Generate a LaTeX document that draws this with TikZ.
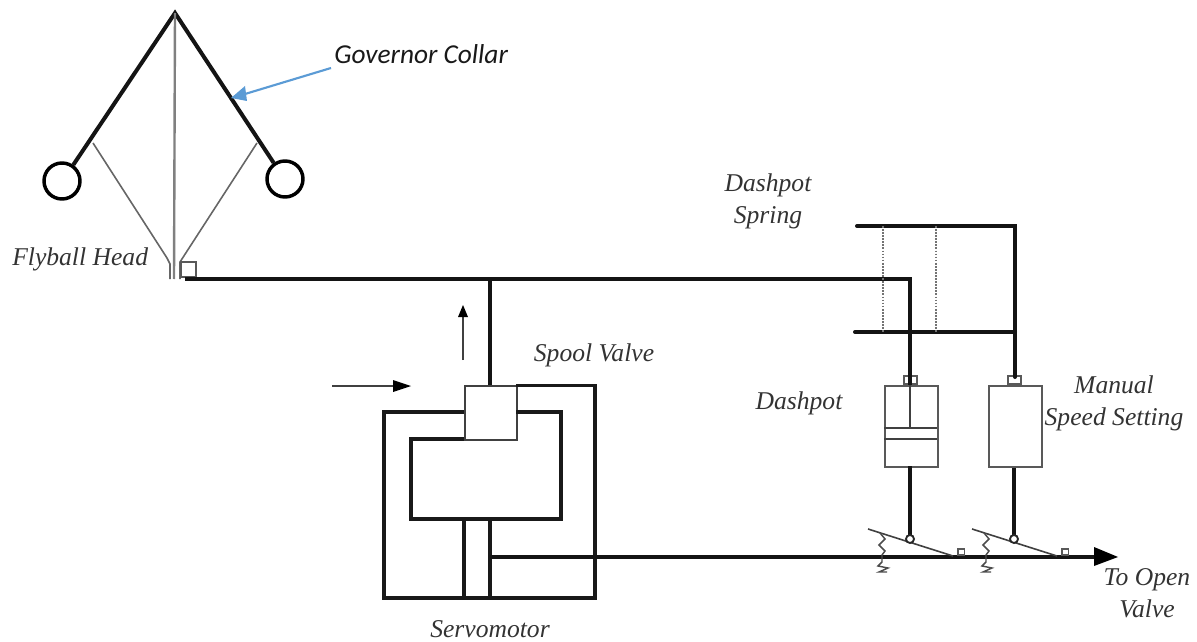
\documentclass[tikz,border=0pt]{standalone}
\usepackage{fontspec}
\setmainfont{Liberation Serif}
\newfontfamily\calib{Carlito}
\usetikzlibrary{arrows.meta}
\tikzset{
  thick line/.style={line width=3pt,black!92,line cap=round,line join=miter},
  mid line/.style={line width=2.2pt,black!90},
  thin box/.style={line width=1.4pt,black!65},
  thin line/.style={line width=1.2pt,black!60},
  lbl/.style={font=\fontsize{19.2pt}{24pt}\selectfont\itshape,text=black!80,inner sep=0pt,align=center},
}
\begin{document}
\begin{tikzpicture}[x=0.75pt,y=-0.75pt]
\useasboundingbox (0,0) rectangle (1197,642);
% flyball head
\coordinate (apex) at (175,13);
\node[circle,draw,line width=2.6pt,minimum size=36pt*0.75,inner sep=0pt] (ballL) at (62,181) {};
\node[circle,draw,line width=2.6pt,minimum size=36pt*0.75,inner sep=0pt] (ballR) at (285,179) {};
\draw[thick line,line cap=butt,line join=miter] (ballL.55) -- (apex) -- (ballR.125);
\coordinate (spindle) at (174,279);
\draw[line width=1.8pt,black!50] (apex) -- (spindle);
\coordinate (jl) at (93,143);
\coordinate (jr) at (257,143);
\draw[thin line] (jl) -- (167,258) -- (170,264) -- (170,279);
\draw[thin line] (jr) -- (180,262) -- (180,279);
\node[draw,thin box,minimum size=15pt*0.75,inner sep=0pt,anchor=south west] (collar) at (180,278) {};
% rail
\coordinate (railL) at (185,279);
\coordinate (railT) at (490,279);
\coordinate (railR) at (910,279);
% dashpot
\node[draw,thin box,minimum width=53pt*0.75,minimum height=81pt*0.75,inner sep=0pt,anchor=north west] (dash) at (884,385) {};
\node[draw,thin box,minimum width=13pt*0.75,minimum height=8pt*0.75,inner sep=0pt,anchor=south] (dashcap) at (910.5,385) {};
\node[draw,thin box,minimum width=53pt*0.75,minimum height=81pt*0.75,inner sep=0pt,anchor=north west] (man) at (988,385) {};
\node[draw,thin box,minimum width=13pt*0.75,minimum height=8pt*0.75,inner sep=0pt,anchor=south] (mancap) at (1014.5,385) {};
\draw[thin line,black!75] (910,385) -- (910,428);
\draw[thin line,black!75] (884,428) -- (937,428) (884,439) -- (937,439);
\draw[thick line,line cap=butt,line join=miter] (railL) -- (railR) -- (910,385);
\draw[thick line,line cap=butt] (railT) -- (490,386);
% spring block
\coordinate (st) at (857,226);
\coordinate (stc) at (1015,226);
\coordinate (sb) at (855,332);
\coordinate (sbc) at (1015,332);
\draw[thick line,line join=miter] (st) -- (stc) -- (1015,377);
\draw[thick line] (sb) -- (sbc);
\draw[line width=1.3pt,black!55,densely dotted] (883,226) -- (883,332) (936,226) -- (936,332);
% rods
\coordinate (pl) at (910,539);
\coordinate (pr) at (1014,539);
\draw[thick line,line cap=butt] (910,466) -- (pl);
\draw[thick line,line cap=butt] (pr |- man.south) -- (pr);
% servomotor
\node[draw,line width=1.4pt,black!75,minimum width=52pt*0.75,minimum height=54pt*0.75,inner sep=0pt,anchor=north west] (spool) at (464,385) {};
\draw[mid line,line width=2.6pt,line join=miter] (516,385.5) -- (595,385.5) -- (595,598) -- (384,598) -- (384,412) -- (464,412);
\draw[mid line,line width=2.6pt,line join=miter] (516,412) -- (561,412) -- (561,519) -- (411,519) -- (411,439) -- (464,439);
\draw[mid line,line width=2.6pt] (464,519) -- (464,598) (490,519) -- (490,598);
% output
\coordinate (out0) at (490,557);
\coordinate (out1) at (1118,557);
\draw[line width=3pt,black!92] (out0) -- (1098,557);
\fill[black] (1094,547) -- (out1) -- (1094,566) -- cycle;
% levers
\draw[thin line,black!75] (868,529) -- (953,556);
\draw[thin line,black!75] (972,529) -- (1057,556);
\node[circle,draw,thin box,black!85,fill=white,minimum size=8pt*0.75,inner sep=0pt] (cl) at (pl) {};
\node[circle,draw,thin box,black!85,fill=white,minimum size=8pt*0.75,inner sep=0pt] (cr) at (pr) {};
\node[draw,thin box,minimum size=6.5pt*0.75,inner sep=0pt,anchor=south west] (s1) at (957,556) {};
\node[draw,thin box,minimum size=6.5pt*0.75,inner sep=0pt,anchor=south west] (s2) at (1061,556) {};
% springs
\foreach \dx in {0,104}{
\draw[line width=1.1pt,black!70,xshift=\dx*0.75pt] (880,533) -- (885,539) -- (879,545) -- (885,551) -- (882,555) -- (882,562) -- (878,566) -- (888,568) -- (879,572) -- (887,572);
}
% arrows
\coordinate (a1) at (463,360);
\coordinate (a2) at (463,305);
\coordinate (b1) at (332,386);
\coordinate (b2) at (411,386);
\draw[line width=1.1pt,black!75] (a1) -- (463,316);
\fill[black] (458,317) -- (a2) -- (468,317) -- cycle;
\draw[line width=1.1pt,black!75] (b1) -- (398,386);
\fill[black] (393,380) -- (b2) -- (393,392) -- cycle;
% labels
\node[lbl,anchor=west] (l1) at (12,259) {Flyball Head};
\node[lbl] (l2) at (594,355) {Spool Valve};
\node[lbl,anchor=base] (l3) at (490,637) {Servomotor};
\node[lbl] (l4) at (768,201) {Dashpot\\Spring};
\node[lbl] (l5) at (799,403) {Dashpot};
\node[lbl] (l6) at (1114,403) {Manual\\Speed Setting};
\node[lbl] (l7) at (1147,593) {To Open\\Valve};
\node[font=\calib\fontsize{20.5pt}{24pt}\selectfont\itshape,inner sep=0pt,text=black!90,anchor=west] (gc) at (334,54) {Governor Collar};
\coordinate (gcA) at (331,68);
\coordinate (gcB) at (231,98);
\draw[line width=1.6pt,color={rgb,255:red,91;green,155;blue,213}] (gcA) -- (245,94);
\fill[color={rgb,255:red,91;green,155;blue,213}] (gcB) -- (245,86) -- (247,101) -- cycle;
\end{tikzpicture}
\end{document}
